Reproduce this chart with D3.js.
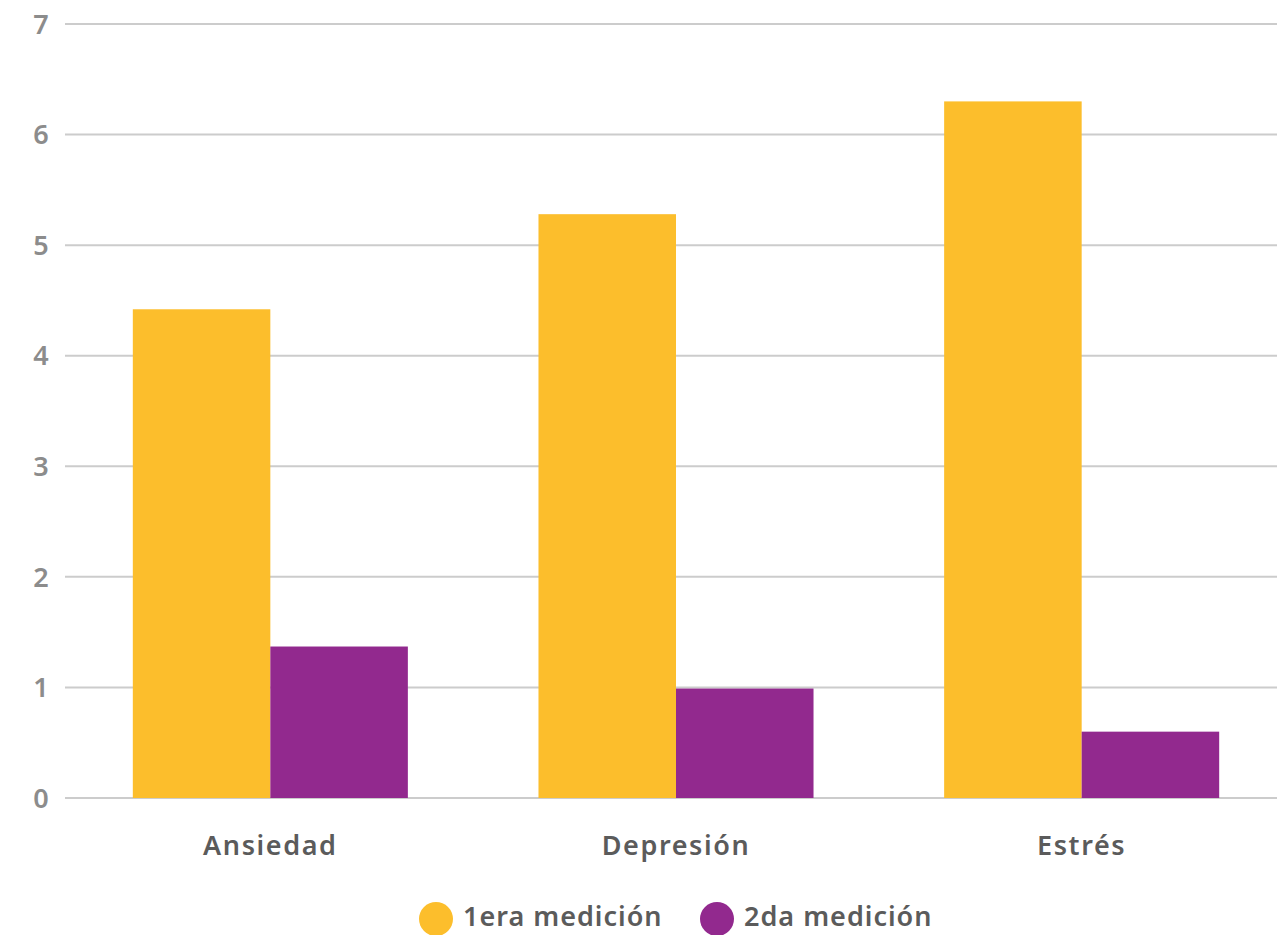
<!DOCTYPE html>
<html>
<head>
<meta charset="utf-8">
<script src="https://cdn.jsdelivr.net/npm/d3@7"></script>
<style>
  body { margin: 0; background: #fff; }
  text { font-family: "Noto Sans", sans-serif; font-weight: 600; }
  .tick-label { fill: #8c8c8c; font-size: 27px; }
  .cat-label { fill: #5b5b5b; font-size: 27px; letter-spacing: 1.6px; }
  .legend-label { fill: #5b5b5b; font-size: 27px; letter-spacing: 1px; }
</style>
</head>
<body>
<div id="chart"></div>
<script>
const categories = ["Ansiedad", "Depresión", "Estrés"];
const seriesNames = ["1era medición", "2da medición"];
const primera = [4.42, 5.28, 6.30];
const segunda = [1.37, 0.99, 0.60];
const yTicks = [0, 1, 2, 3, 4, 5, 6, 7];
const colors = ["#fcbe2c", "#92298e"];

function renderChart() {
    const width = 1284;
    const height = 935;
    const gridLeft = 65;
    const gridRight = 1277;

    const svg = d3.select("#chart")
        .html("")
        .append("svg")
        .attr("width", width)
        .attr("height", height);

    const y = d3.scaleLinear()
        .domain([0, 7])
        .range([798, 24]);

    const x = d3.scaleBand()
        .domain(categories)
        .range([67.5, 1284.5])
        .paddingInner(0.322)
        .paddingOuter(0.161);

    const xInner = d3.scaleBand()
        .domain(seriesNames)
        .range([0, x.bandwidth()]);

    // grid lines + y labels
    svg.selectAll(".grid")
        .data(yTicks)
        .enter()
        .append("line")
        .attr("class", "grid")
        .attr("x1", gridLeft)
        .attr("x2", gridRight)
        .attr("y1", d => y(d))
        .attr("y2", d => y(d))
        .attr("stroke", "#cccccc")
        .attr("stroke-width", 2);

    svg.selectAll(".tick-label")
        .data(yTicks)
        .enter()
        .append("text")
        .attr("class", "tick-label")
        .attr("x", 41)
        .attr("y", d => y(d))
        .attr("dy", "0.36em")
        .attr("text-anchor", "middle")
        .text(d => d);

    const rows = categories.map((c, i) => ({
        category: c,
        values: [primera[i], segunda[i]]
    }));

    const groups = svg.selectAll(".group")
        .data(rows)
        .enter()
        .append("g")
        .attr("class", "group")
        .attr("transform", d => `translate(${x(d.category)},0)`);

    groups.selectAll("rect")
        .data(d => d.values.map((v, j) => ({ series: seriesNames[j], value: v, j: j })))
        .enter()
        .append("rect")
        .attr("x", d => xInner(d.series))
        .attr("y", d => y(d.value))
        .attr("width", xInner.bandwidth())
        .attr("height", d => y(0) - y(d.value))
        .attr("fill", d => colors[d.j]);

    svg.selectAll(".cat-label")
        .data(categories)
        .enter()
        .append("text")
        .attr("class", "cat-label")
        .attr("x", d => x(d) + x.bandwidth() / 2)
        .attr("y", 855)
        .attr("text-anchor", "middle")
        .text(d => d);

    // legend
    const legendX = [436, 717];
    const legend = svg.append("g");

    legend.selectAll("circle")
        .data(seriesNames)
        .enter()
        .append("circle")
        .attr("cx", (d, i) => legendX[i])
        .attr("cy", 919)
        .attr("r", 17)
        .attr("fill", (d, i) => colors[i]);

    legend.selectAll("text")
        .data(seriesNames)
        .enter()
        .append("text")
        .attr("class", "legend-label")
        .attr("x", (d, i) => legendX[i] + 27)
        .attr("y", 926)
        .text(d => d);
}

renderChart();
</script>
</body>
</html>
